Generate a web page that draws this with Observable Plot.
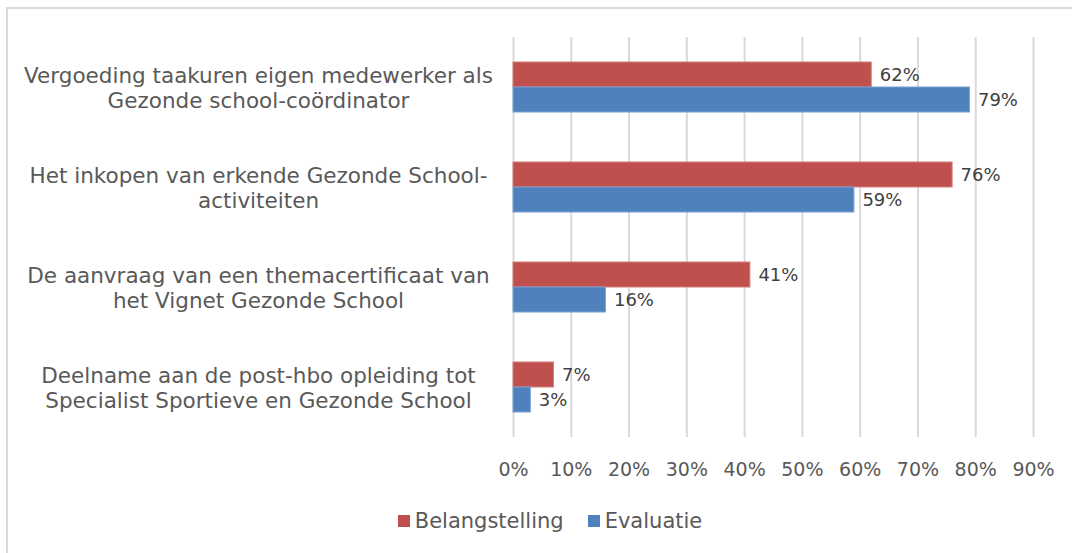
<!DOCTYPE html>
<html>
<head>
<meta charset="utf-8">
<script src="https://cdn.jsdelivr.net/npm/d3@7"></script>
<script src="https://cdn.jsdelivr.net/npm/@observablehq/plot@0.6"></script>
<style>
  html, body { margin: 0; padding: 0; background: #fff; }
  body { width: 1072px; height: 553px; overflow: hidden; position: relative; font-family: "DejaVu Sans", Verdana, sans-serif; }
  #frame { position: absolute; left: 6px; top: 7px; width: 1080px; height: 560px; border: 2px solid #d9d9d9; box-sizing: border-box; }
  #chart { position: absolute; left: 0; top: 0; }
  #legend { position: absolute; left: 14px; top: 509px; width: 1072px; display: flex; justify-content: center; font-size: 21px; color: #595959; }
  .item { display: flex; align-items: center; margin: 0 12px; }
  .sw { width: 12px; height: 12px; margin-right: 5px; }
</style>
</head>
<body>
<div id="frame"></div>
<div id="chart"></div>
<div id="legend"></div>
<script>
const categories = [
  "Vergoeding taakuren eigen medewerker als\nGezonde school-coördinator",
  "Het inkopen van erkende Gezonde School-\nactiviteiten",
  "De aanvraag van een themacertificaat van\nhet Vignet Gezonde School",
  "Deelname aan de post-hbo opleiding tot\nSpecialist Sportieve en Gezonde School"
];
const seriesNames = ["Belangstelling", "Evaluatie"];
const belangstelling = [62, 76, 41, 7];
const evaluatie = [79, 59, 16, 3];
const seriesColors = ["#C0504D", "#4F81BD"];
const seriesStrokes = ["#d27f7d", "#7aa0d2"];
const xTicks = [0, 10, 20, 30, 40, 50, 60, 70, 80, 90];

const data = [];
categories.forEach((c, i) => {
  data.push({cat: c, series: seriesNames[0], value: belangstelling[i]});
  data.push({cat: c, series: seriesNames[1], value: evaluatie[i]});
});

const chart = Plot.plot({
  width: 1072,
  height: 490,
  marginLeft: 513,
  marginRight: 39,
  marginTop: 37,
  marginBottom: 53,
  style: {fontFamily: "'DejaVu Sans', Verdana, sans-serif", background: "transparent"},
  x: {domain: [0, 90], ticks: xTicks, tickFormat: d => d + "%", label: null},
  y: {domain: seriesNames, label: null, paddingInner: 0, paddingOuter: 0.96, axis: null},
  fy: {domain: categories, padding: 0, label: null},
  color: {domain: seriesNames, range: seriesColors},
  marks: [
    Plot.gridX(xTicks, {stroke: "#d9d9d9", strokeOpacity: 1, strokeWidth: 2}),
    Plot.barX(data, {
      x: "value", y: "series", fy: "cat", fill: "series",
      stroke: d => seriesStrokes[seriesNames.indexOf(d.series)], strokeWidth: 1
    }),
    Plot.text(data, {
      x: "value", y: "series", fy: "cat", text: d => d.value + "%",
      textAnchor: "start", dx: 8, fill: "#404040", fontSize: 18
    }),
    Plot.axisX({ticks: xTicks, tickFormat: d => d + "%", tickSize: 0, tickPadding: 25, fontSize: 19, color: "#595959", label: null}),
    Plot.axisFy({anchor: "left", tickSize: 0, tickPadding: 0, fontSize: 21.5, color: "#595959", label: null, lineHeight: 1.17, textAnchor: "middle", dx: -255})
  ]
});
document.getElementById("chart").appendChild(chart);

const legend = document.getElementById("legend");
seriesNames.forEach((n, i) => {
  const it = document.createElement("div");
  it.className = "item";
  const sw = document.createElement("div");
  sw.className = "sw";
  sw.style.background = seriesColors[i];
  const t = document.createElement("span");
  t.textContent = n;
  it.appendChild(sw); it.appendChild(t);
  legend.appendChild(it);
});
</script>
</body>
</html>
